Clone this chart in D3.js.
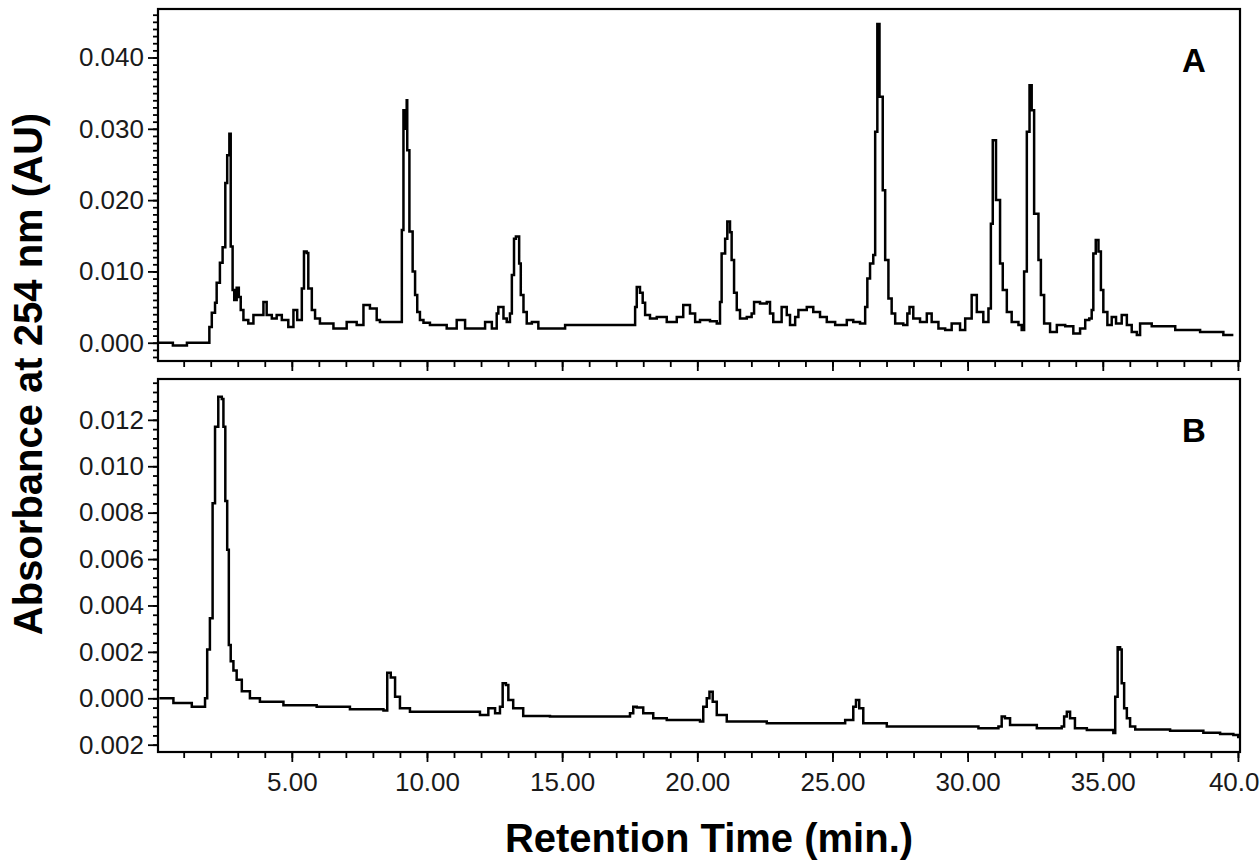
<!DOCTYPE html>
<html>
<head>
<meta charset="utf-8">
<script src="https://cdn.jsdelivr.net/npm/d3@7"></script>
<style>
  body { margin: 0; background: #fff; overflow: hidden; }
  svg { display: block; font-family: Arial, "Liberation Sans", sans-serif; }
  .axis path.domain { display: none; }
  .axis line { stroke: #000; stroke-width: 1.8; }
  .axis text { font-size: 26px; fill: #1a1a1a; font-family: Arial, "Liberation Sans", sans-serif; }
</style>
</head>
<body>
<svg id="chart" width="1260" height="868"></svg>
<script>
// chromatogram A: [retention time (min), absorbance (AU)]
var traceA = [
  [0.06, 0.0000], [0.60, -0.0004], [1.12, 0.0000], [1.95, 0.0022], [2.04, 0.0042],
  [2.16, 0.0056], [2.22, 0.0084], [2.34, 0.0112], [2.44, 0.0134], [2.54, 0.0224],
  [2.61, 0.0263], [2.69, 0.0293], [2.74, 0.0135], [2.81, 0.0074], [2.87, 0.0060],
  [2.96, 0.0077], [3.04, 0.0064], [3.11, 0.0046], [3.21, 0.0032], [3.39, 0.0027],
  [3.58, 0.0039], [3.95, 0.0057], [4.07, 0.0039], [4.26, 0.0034], [4.44, 0.0039],
  [4.63, 0.0032], [4.87, 0.0022], [5.06, 0.0046], [5.20, 0.0032], [5.37, 0.0076],
  [5.45, 0.0128], [5.55, 0.0126], [5.61, 0.0076], [5.74, 0.0046], [5.86, 0.0034],
  [6.04, 0.0027], [6.54, 0.0020], [7.03, 0.0029], [7.40, 0.0025], [7.65, 0.0053],
  [7.89, 0.0048], [8.14, 0.0032], [8.26, 0.0029], [9.07, 0.0158], [9.13, 0.0326],
  [9.19, 0.0300], [9.25, 0.0340], [9.27, 0.0270], [9.35, 0.0156], [9.47, 0.0100],
  [9.56, 0.0067], [9.64, 0.0043], [9.74, 0.0032], [9.87, 0.0028], [10.11, 0.0025],
  [10.73, 0.0020], [11.10, 0.0032], [11.41, 0.0020], [12.15, 0.0029], [12.40, 0.0020],
  [12.58, 0.0041], [12.64, 0.0050], [12.83, 0.0034], [12.95, 0.0029], [13.07, 0.0041],
  [13.14, 0.0095], [13.22, 0.0146], [13.29, 0.0149], [13.41, 0.0111], [13.47, 0.0067],
  [13.57, 0.0043], [13.69, 0.0027], [13.88, 0.0029], [14.12, 0.0020], [15.11, 0.0025],
  [17.70, 0.0050], [17.76, 0.0078], [17.88, 0.0070], [17.98, 0.0056], [18.07, 0.0039],
  [18.25, 0.0034], [18.50, 0.0036], [18.87, 0.0029], [19.24, 0.0036], [19.48, 0.0053],
  [19.73, 0.0041], [19.92, 0.0029], [20.10, 0.0032], [20.47, 0.0030], [20.72, 0.0027],
  [20.84, 0.0057], [20.90, 0.0125], [21.03, 0.0146], [21.11, 0.0170], [21.21, 0.0155],
  [21.27, 0.0116], [21.36, 0.0070], [21.46, 0.0046], [21.58, 0.0034], [21.83, 0.0036],
  [22.01, 0.0041], [22.10, 0.0057], [22.32, 0.0055], [22.57, 0.0057], [22.69, 0.0041],
  [22.81, 0.0029], [23.12, 0.0050], [23.31, 0.0039], [23.43, 0.0025], [23.62, 0.0036],
  [23.74, 0.0046], [24.05, 0.0050], [24.29, 0.0043], [24.54, 0.0036], [24.79, 0.0029],
  [25.10, 0.0025], [25.53, 0.0032], [25.77, 0.0029], [26.02, 0.0027], [26.21, 0.0050],
  [26.29, 0.0090], [26.39, 0.0111], [26.51, 0.0123], [26.58, 0.0296], [26.66, 0.0447],
  [26.74, 0.0345], [26.86, 0.0214], [26.95, 0.0116], [27.07, 0.0062], [27.19, 0.0041],
  [27.32, 0.0027], [27.62, 0.0025], [27.77, 0.0041], [27.85, 0.0050], [27.99, 0.0034],
  [28.24, 0.0029], [28.49, 0.0041], [28.67, 0.0029], [28.92, 0.0020], [29.17, 0.0018],
  [29.41, 0.0027], [29.72, 0.0018], [29.91, 0.0034], [30.15, 0.0067], [30.34, 0.0043],
  [30.58, 0.0029], [30.77, 0.0048], [30.86, 0.0167], [30.93, 0.0284], [31.05, 0.0200],
  [31.20, 0.0111], [31.30, 0.0074], [31.45, 0.0043], [31.63, 0.0029], [31.88, 0.0025],
  [32.00, 0.0018], [32.09, 0.0100], [32.19, 0.0296], [32.29, 0.0361], [32.37, 0.0326],
  [32.46, 0.0181], [32.62, 0.0116], [32.71, 0.0067], [32.83, 0.0027], [33.05, 0.0015],
  [33.30, 0.0025], [33.61, 0.0023], [33.91, 0.0013], [34.16, 0.0020], [34.35, 0.0032],
  [34.50, 0.0034], [34.59, 0.0046], [34.65, 0.0125], [34.74, 0.0144], [34.84, 0.0128],
  [34.93, 0.0074], [35.02, 0.0043], [35.17, 0.0025], [35.33, 0.0036], [35.49, 0.0027],
  [35.70, 0.0039], [35.89, 0.0025], [36.07, 0.0015], [36.26, 0.0011], [36.38, 0.0027],
  [36.81, 0.0023], [37.68, 0.0018], [38.60, 0.0015], [39.46, 0.0011], [39.83, 0.0011]
];

// chromatogram B: [retention time (min), absorbance (AU)]
var traceB = [
  [0.10, 0.00000], [0.62, -0.00020], [1.30, -0.00036], [1.79, 0.00000], [1.87, 0.00210],
  [1.97, 0.00345], [2.07, 0.00840], [2.16, 0.01170], [2.28, 0.01300], [2.41, 0.01290],
  [2.47, 0.01170], [2.54, 0.00850], [2.61, 0.00640], [2.67, 0.00230], [2.74, 0.00160],
  [2.84, 0.00120], [2.96, 0.00080], [3.15, 0.00030], [3.45, 0.00000], [3.82, -0.00015],
  [4.69, -0.00030], [5.92, -0.00036], [7.15, -0.00047], [8.39, -0.00053], [8.53, 0.00110],
  [8.66, 0.00090], [8.82, 0.00007], [9.00, -0.00043], [9.37, -0.00058], [11.96, -0.00072],
  [12.27, -0.00043], [12.52, -0.00065], [12.70, -0.00036], [12.80, 0.00065], [12.92, 0.00057],
  [13.01, -0.00007], [13.19, -0.00043], [13.56, -0.00076], [14.55, -0.00079], [17.51, -0.00065],
  [17.63, -0.00036], [17.76, -0.00040], [18.00, -0.00065], [18.37, -0.00086], [18.87, -0.00094],
  [20.10, -0.00100], [20.22, -0.00036], [20.35, 0.00000], [20.45, 0.00028], [20.57, -0.00015],
  [20.72, -0.00072], [21.09, -0.00100], [22.57, -0.00108], [25.47, -0.00094], [25.77, -0.00036],
  [25.87, -0.00007], [25.99, -0.00043], [26.14, -0.00108], [27.01, -0.00122], [30.40, -0.00129],
  [31.14, -0.00122], [31.26, -0.00079], [31.38, -0.00086], [31.57, -0.00115], [32.56, -0.00129],
  [33.48, -0.00122], [33.57, -0.00079], [33.67, -0.00058], [33.79, -0.00086], [33.97, -0.00129],
  [34.41, -0.00137], [35.39, -0.00150], [35.46, 0.00007], [35.55, 0.00220], [35.64, 0.00210],
  [35.70, 0.00065], [35.79, -0.00043], [35.89, -0.00086], [36.01, -0.00122], [36.20, -0.00134],
  [37.49, -0.00140], [38.72, -0.00148], [39.34, -0.00154], [39.83, -0.00158], [40.01, -0.00172]
];

var xMajorTicks = [5, 10, 15, 20, 25, 30, 35, 40];
var xTickLabels = ["5.00", "10.00", "15.00", "20.00", "25.00", "30.00", "35.00", "40.0"];
var yTicksA = [0.000, 0.010, 0.020, 0.030, 0.040];
var yTicksB = [-0.002, 0.000, 0.002, 0.004, 0.006, 0.008, 0.010, 0.012];
var panelLabels = ["A", "B"];

var svg = d3.select("#chart");

var left = 158, right = 1240;
var panelA = { top: 9, bottom: 361 },
    panelB = { top: 379, bottom: 752 };

var x = d3.scaleLinear().domain([0.05, 40.05]).range([left, 1239.3]);
var yA = d3.scaleLinear().domain([-0.00256, 0.0468]).range([panelA.bottom, panelA.top]);
var yB = d3.scaleLinear().domain([-0.002315, 0.01376]).range([panelB.bottom, panelB.top]);

var fmt = d3.format(".3f");

function drawPanel(p, y, data, yTicks, minorStep, label, showXLabels) {
  // minor y ticks
  svg.append("g")
      .attr("class", "axis")
      .attr("transform", "translate(" + left + ",0)")
      .call(d3.axisLeft(y)
        .tickValues(d3.range(Math.ceil(y.domain()[0] / minorStep), Math.floor(y.domain()[1] / minorStep) + 1)
          .map(function(i) { return i * minorStep; }))
        .tickSize(5)
        .tickFormat(""));

  // major y ticks
  svg.append("g")
      .attr("class", "axis")
      .attr("transform", "translate(" + left + ",0)")
      .call(d3.axisLeft(y)
        .tickValues(yTicks)
        .tickSize(10)
        .tickPadding(4)
        .tickFormat(function(d) { return fmt(Math.abs(d)); }));

  // minor x ticks
  svg.append("g")
      .attr("class", "axis")
      .attr("transform", "translate(0," + p.bottom + ")")
      .call(d3.axisBottom(x)
        .tickValues(d3.range(1, 41))
        .tickSize(6)
        .tickFormat(""));

  // major x ticks
  var gx = svg.append("g")
      .attr("class", "axis")
      .attr("transform", "translate(0," + p.bottom + ")")
      .call(d3.axisBottom(x)
        .tickValues(xMajorTicks)
        .tickSize(10)
        .tickPadding(11)
        .tickFormat(function(d, i) { return showXLabels ? xTickLabels[i] : ""; }));

  // last label sits against the right edge of the page
  gx.selectAll(".tick text")
      .filter(function(d) { return d === 40; })
      .attr("text-anchor", "end")
      .attr("x", 1259 - x(40));

  var line = d3.line()
      .curve(d3.curveStepAfter)
      .x(function(d) { return x(d[0]); })
      .y(function(d) { return y(d[1]); });

  svg.append("path")
      .datum(data)
      .attr("fill", "none")
      .attr("stroke", "#000")
      .attr("stroke-width", 2.5)
      .attr("stroke-linejoin", "miter")
      .attr("d", line);

  // frame
  svg.append("rect")
      .attr("x", left)
      .attr("y", p.top)
      .attr("width", right - left)
      .attr("height", p.bottom - p.top)
      .attr("fill", "none")
      .attr("stroke", "#000")
      .attr("stroke-width", 2.2);

  svg.append("text")
      .attr("x", 1194)
      .attr("y", p.top + 63)
      .attr("text-anchor", "middle")
      .attr("font-size", 33)
      .attr("font-weight", "bold")
      .text(label);
}

drawPanel(panelA, yA, traceA, yTicksA, 0.001, panelLabels[0], false);
drawPanel(panelB, yB, traceB, yTicksB, 0.0004, panelLabels[1], true);

// axis titles
svg.append("text")
    .attr("transform", "translate(42,374) rotate(-90)")
    .attr("text-anchor", "middle")
    .attr("font-size", 40)
    .attr("font-weight", "bold")
    .text("Absorbance at 254 nm (AU)");

svg.append("text")
    .attr("x", 709)
    .attr("y", 852)
    .attr("text-anchor", "middle")
    .attr("font-size", 40)
    .attr("font-weight", "bold")
    .text("Retention Time (min.)");
</script>
</body>
</html>
